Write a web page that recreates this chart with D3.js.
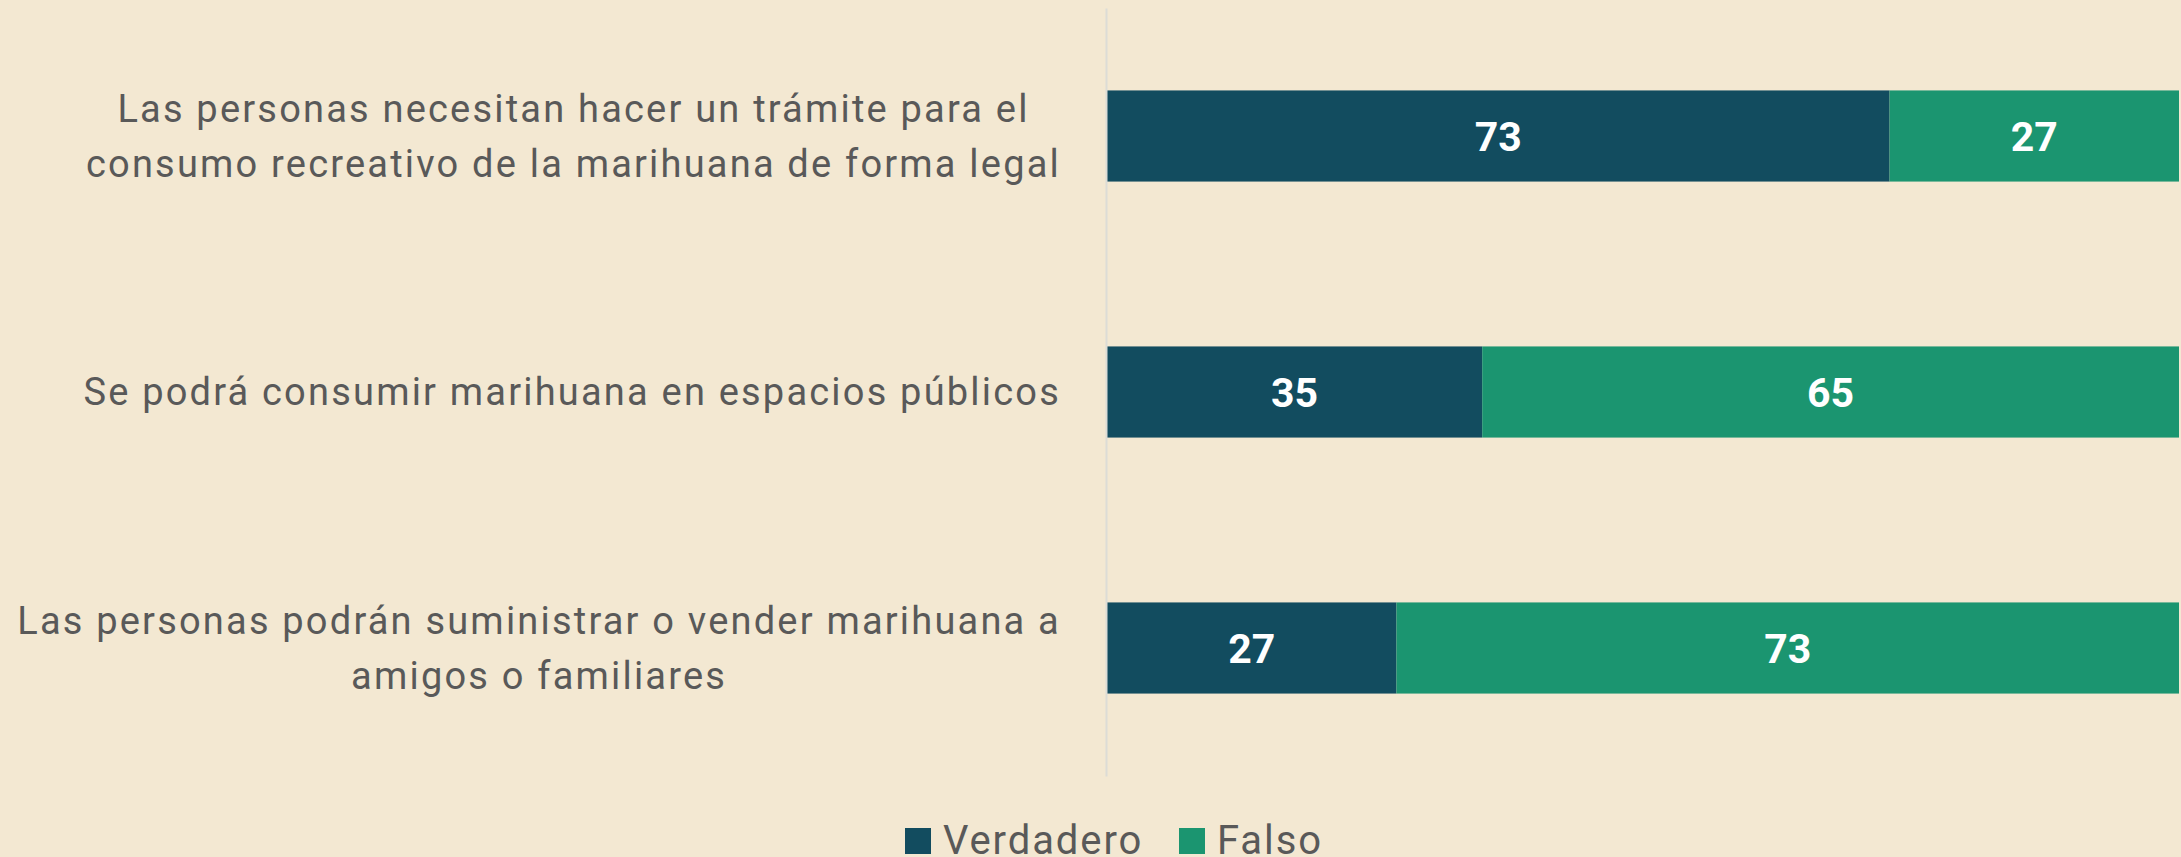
<html>
    <head>
        <meta charset="utf-8">
        <style>
            body{ margin:0; background:#f3e8d2; }
            svg{ display:block; font-family: Roboto, sans-serif; }
        </style>
        <script src="https://d3js.org/d3.v7.min.js"></script>
    </head>
    <body>
        <svg width="2181" height="857"></svg>
        <script>
            let categories = [
                "Las personas necesitan hacer un trámite para el\nconsumo recreativo de la marihuana de forma legal",
                "Se podrá consumir marihuana en espacios públicos",
                "Las personas podrán suministrar o vender marihuana a\namigos o familiares"
            ]
            let series = ["Verdadero", "Falso"]
            let verdadero = [73, 35, 27]
            let falso = [27, 65, 73]
            let colors = ["#124c5f", "#1b9570"]

            let svg = d3.select("svg"),
                plotLeft = 1107,
                plotRight = 2179,
                plotTop = 8,
                plotBottom = 776

            svg.append("rect").attr("width", 2181).attr("height", 857).attr("fill", "#f3e8d2")

            let xScale = d3.scaleLinear().domain([0, 100]).range([plotLeft, plotRight]),
                yScale = d3.scaleBand().domain(categories).range([plotTop, plotBottom])
                            .paddingInner(0.644).paddingOuter(0.322)

            let rows = categories.map(function(c, i) {
                return {cat: c, vals: [verdadero[i], falso[i]]}
            })

            // stacked segments
            rows.forEach(function(r) {
                let x0 = 0
                r.vals.forEach(function(v, j) {
                    let g = svg.append("g")
                    g.append("rect")
                     .attr("x", xScale(x0))
                     .attr("y", yScale(r.cat))
                     .attr("width", xScale(x0 + v) - xScale(x0))
                     .attr("height", yScale.bandwidth())
                     .attr("fill", colors[j])
                    g.append("text")
                     .attr("x", (xScale(x0) + xScale(x0 + v)) / 2)
                     .attr("y", yScale(r.cat) + yScale.bandwidth() / 2)
                     .attr("dy", "0.36em")
                     .attr("text-anchor", "middle")
                     .attr("fill", "white")
                     .attr("font-weight", "bold")
                     .attr("font-size", "41px")
                     .text(v)
                    x0 += v
                })
            })

            // axis line only
            let axis = svg.append("g")
                .attr("transform", "translate(" + (plotLeft - 1) + ",0)")
                .call(d3.axisLeft(yScale).tickSize(0).tickFormat(""))
            axis.select(".domain").attr("stroke", "#dcdcd6").attr("stroke-width", 2)

            // category labels, lines centred within a right-aligned block
            let labelRight = 1061, lineH = 55
            categories.forEach(function(c) {
                let lines = c.split("\n")
                let t = svg.append("text")
                    .attr("fill", "#595959")
                    .attr("font-size", "38px")
                    .attr("letter-spacing", "2.2px")
                    .attr("text-anchor", "middle")
                let cy = yScale(c) + yScale.bandwidth() / 2
                let spans = lines.map(function(l, k) {
                    return t.append("tspan")
                        .attr("y", cy + (k - (lines.length - 1) / 2) * lineH)
                        .attr("dy", "0.35em")
                        .text(l)
                })
                let maxW = d3.max(spans, function(s) { return s.node().getComputedTextLength() })
                spans.forEach(function(s) { s.attr("x", labelRight - maxW / 2) })
            })

            // legend
            let lg = svg.append("g")
            let lx = [905, 1179]
            series.forEach(function(s, i) {
                lg.append("rect")
                  .attr("x", lx[i]).attr("y", 828)
                  .attr("width", 26).attr("height", 26)
                  .attr("fill", colors[i])
                lg.append("text")
                  .attr("x", lx[i] + 38).attr("y", 854)
                  .attr("fill", "#595959")
                  .attr("font-size", "40px")
                  .attr("letter-spacing", "1.9px")
                  .text(s)
            })
        </script>
    </body>
</html>
